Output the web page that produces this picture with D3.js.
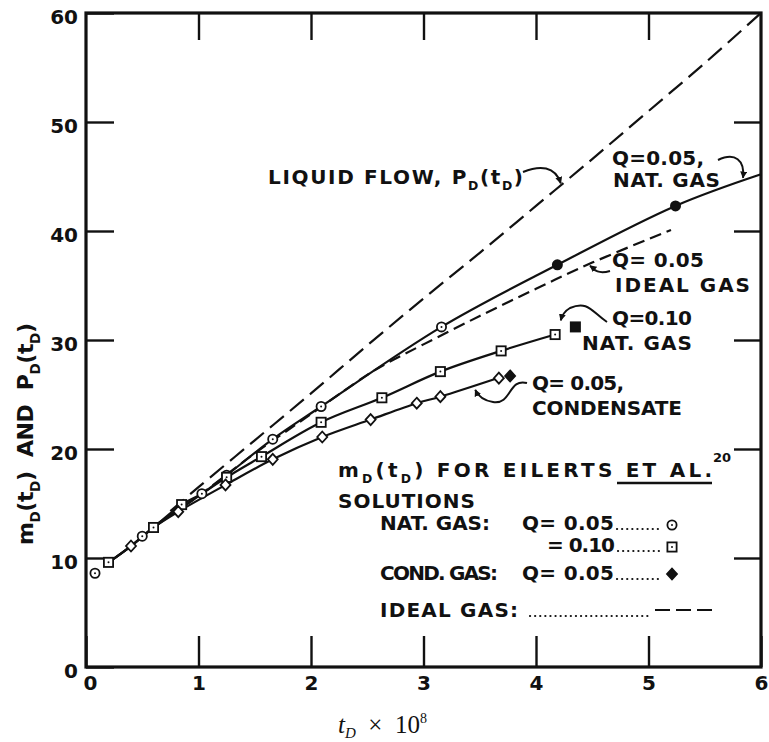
<!DOCTYPE html>
<html>
<head>
<meta charset="utf-8">
<script src="https://cdn.jsdelivr.net/npm/d3@7"></script>
<style>
body { margin: 0; background: #fff; }
text { font-family: "DejaVu Sans", sans-serif; font-weight: bold; fill: #111; white-space: pre; }
</style>
</head>
<body>
<div id="chart"></div>
<script>
var width = 769,
	height = 742;

// axis values
var xTicks = [0, 1, 2, 3, 4, 5, 6];
var yTicks = [0, 10, 20, 30, 40, 50, 60];

// liquid flow P_D(t_D), long dashes
var liquidFlow = [[0.75, 14.3], [1.0, 16.5], [1.5, 20.8], [2.0, 25.1], [2.5, 29.5], [3.0, 33.8],
	[3.5, 38.0], [4.0, 42.3], [4.5, 46.6], [5.0, 51.0], [5.5, 55.4], [6.0, 60.0]];

// ideal gas Q=0.05, short dashes
var idealGas = [[0.6, 12.9], [1.0, 15.7], [1.5, 19.6], [2.0, 23.2], [2.5, 26.8], [2.68, 27.9],
	[3.0, 29.6], [3.5, 32.2], [4.0, 34.7], [4.5, 37.1], [5.2, 40.1]];

// solid curves
var natGas05 = [[0.2, 9.6], [0.4, 11.1], [0.6, 12.8], [0.85, 14.9], [1.03, 15.9], [1.25, 17.6],
	[1.66, 20.9], [2.09, 23.9], [3.16, 31.2], [4.19, 36.9], [5.24, 42.3], [6.0, 45.2]];
var natGas10 = [[0.2, 9.6], [0.4, 11.1], [0.6, 12.8], [0.85, 14.6], [1.25, 17.4], [1.56, 19.3],
	[2.09, 22.45], [2.63, 24.7], [3.15, 27.1], [3.69, 29.0], [4.17, 30.5]];
var condensate = [[0.2, 9.6], [0.4, 11.1], [0.6, 12.8], [0.82, 14.25], [1.24, 16.7], [1.66, 19.05],
	[2.1, 21.1], [2.53, 22.7], [2.94, 24.2], [3.15, 24.8], [3.69, 26.6]];

// Eilerts et al. solution points
var circlePts = [[0.08, 8.6], [0.5, 12.0], [1.03, 15.9], [1.25, 17.6], [1.66, 20.9], [2.09, 23.9], [3.16, 31.2]];
var circleFilled = [[4.19, 36.9], [5.24, 42.3]];
var squarePts = [[0.2, 9.6], [0.6, 12.8], [0.85, 14.9], [1.25, 17.4], [1.56, 19.3], [2.09, 22.45],
	[2.63, 24.7], [3.15, 27.1], [3.69, 29.0], [4.17, 30.5]];
var squareFilled = [[4.35, 31.2]];
var diamondPts = [[0.4, 11.1], [0.82, 14.25], [1.24, 16.7], [1.66, 19.05], [2.1, 21.1], [2.53, 22.7],
	[2.94, 24.2], [3.15, 24.8], [3.67, 26.5]];
var diamondFilled = [[3.77, 26.7]];

var svg = d3.select('#chart')
	.append('svg')
	.attr('width', width)
	.attr('height', height);

svg.append('defs').append('marker')
	.attr('id', 'ah')
	.attr('viewBox', '0 0 10 10')
	.attr('refX', 9).attr('refY', 5)
	.attr('markerWidth', 7).attr('markerHeight', 7)
	.attr('markerUnits', 'userSpaceOnUse')
	.attr('orient', 'auto')
	.append('path').attr('d', 'M0,0L10,5L0,10z').attr('fill', '#111');

var x = d3.scaleLinear().domain([0, 6]).range([86, 761]);
var y = d3.scaleLinear().domain([0, 60]).range([667, 13]);

// axes, ticks pointing inward
var gx = svg.append('g')
	.attr('transform', 'translate(0,' + y(0) + ')')
	.call(d3.axisBottom(x).tickValues(xTicks).tickSize(-31).tickPadding(9).tickFormat(d3.format('d')));
var gy = svg.append('g')
	.attr('transform', 'translate(' + x(0) + ',0)')
	.call(d3.axisLeft(y).tickValues(yTicks).tickSize(-28).tickPadding(8).tickFormat(d3.format('d')));
var gt = svg.append('g')
	.attr('transform', 'translate(0,' + y(60) + ')')
	.call(d3.axisTop(x).tickValues([1, 2, 3, 4, 5]).tickSize(-27).tickFormat(''));
var gr = svg.append('g')
	.attr('transform', 'translate(' + x(6) + ',0)')
	.call(d3.axisRight(y).tickValues([10, 20, 30, 40, 50]).tickSize(-27).tickFormat(''));

[gx, gy, gt, gr].forEach(function(g) {
	g.select('.domain').remove();
	g.selectAll('.tick line').attr('stroke', '#111').attr('stroke-width', 2.4);
	g.selectAll('.tick text').attr('font-size', 20).attr('fill', '#111')
		.attr('font-family', '"DejaVu Sans", sans-serif').attr('font-weight', 'bold');
});
gy.selectAll('.tick text').attr('dy', '0.5em');
gx.selectAll('.tick text').filter(function(d) { return d === 0; }).attr('dx', 4);

svg.append('rect')
	.attr('x', x(0)).attr('y', y(60))
	.attr('width', x(6) - x(0)).attr('height', y(0) - y(60))
	.attr('fill', 'none').attr('stroke', '#111').attr('stroke-width', 3.2);

// curves
var line = d3.line()
	.x(function(d) { return x(d[0]); })
	.y(function(d) { return y(d[1]); })
	.curve(d3.curveCatmullRom.alpha(0.5));

function drawLine(data, dash) {
	svg.append('path')
		.attr('d', line(data))
		.attr('fill', 'none')
		.attr('stroke', '#111')
		.attr('stroke-width', 2.2)
		.attr('stroke-dasharray', dash);
}
drawLine(liquidFlow, '18,8');
drawLine(idealGas, '12,6');
drawLine(natGas05, null);
drawLine(natGas10, null);
drawLine(condensate, null);

// markers
function circleMark(g, px, py, filled) {
	g.append('circle').attr('cx', px).attr('cy', py).attr('r', 4.6)
		.attr('fill', filled ? '#111' : '#fff').attr('stroke', '#111').attr('stroke-width', 1.8);
	if (!filled) g.append('circle').attr('cx', px).attr('cy', py).attr('r', 1).attr('fill', '#111');
}
function squareMark(g, px, py, filled) {
	g.append('rect').attr('x', px - 4.6).attr('y', py - 4.6).attr('width', 9.2).attr('height', 9.2)
		.attr('fill', filled ? '#111' : '#fff').attr('stroke', '#111').attr('stroke-width', 1.8);
	if (!filled) g.append('circle').attr('cx', px).attr('cy', py).attr('r', 1).attr('fill', '#111');
}
function diamondMark(g, px, py, filled) {
	g.append('path').attr('d', 'M' + px + ',' + (py - 5.5) + 'L' + (px + 5) + ',' + py + 'L' + px + ',' + (py + 5.5) + 'L' + (px - 5) + ',' + py + 'Z')
		.attr('fill', filled ? '#111' : '#fff').attr('stroke', '#111').attr('stroke-width', 1.8);
}

var marks = svg.append('g');
circlePts.forEach(function(d) { circleMark(marks, x(d[0]), y(d[1]), false); });
circleFilled.forEach(function(d) { circleMark(marks, x(d[0]), y(d[1]), true); });
squarePts.forEach(function(d) { squareMark(marks, x(d[0]), y(d[1]), false); });
squareFilled.forEach(function(d) { squareMark(marks, x(d[0]), y(d[1]), true); });
diamondPts.forEach(function(d) { diamondMark(marks, x(d[0]), y(d[1]), false); });
diamondFilled.forEach(function(d) { diamondMark(marks, x(d[0]), y(d[1]), true); });

// text with sub/superscripts
function richText(sel, px, py, parts, size, len) {
	var t = sel.append('text').attr('x', px).attr('y', py).attr('font-size', size);
	var shift = 0;
	parts.forEach(function(p) {
		var s = typeof p === 'string' ? { t: p, k: null } : p;
		var target = s.k === 'sub' ? size * 0.3 : s.k === 'sup' ? -size * 0.45 : 0;
		var ts = t.append('tspan').text(s.t).attr('dy', target - shift);
		if (s.k) ts.attr('font-size', size * 0.62);
		shift = target;
	});
	if (len) t.attr('textLength', len).attr('lengthAdjust', 'spacing');
	return t;
}
var D = { t: 'D', k: 'sub' };

var notes = svg.append('g');
richText(notes, 268, 184, ['LIQUID FLOW, P', D, '(t', D, ')'], 20, 255);
richText(notes, 612, 165, ['Q=0.05,'], 20, 92);
richText(notes, 613, 187, ['NAT. GAS'], 20, 107);
richText(notes, 612, 267, ['Q= 0.05'], 20, 92);
richText(notes, 615, 292, ['IDEAL GAS'], 20, 135);
richText(notes, 612, 325, ['Q=0.10'], 20, 80);
richText(notes, 582, 350, ['NAT. GAS'], 20, 110);
richText(notes, 532, 390, ['Q= 0.05,'], 20, 92);
richText(notes, 532, 415, ['CONDENSATE'], 20, 150);

// pointer arrows: start in pixels, tip on the curve in data units
function arrow(d) {
	svg.append('path')
		.attr('d', d)
		.attr('fill', 'none').attr('stroke', '#111').attr('stroke-width', 2)
		.attr('marker-end', 'url(#ah)');
}
var p;
p = d3.path(); p.moveTo(523, 172); p.bezierCurveTo(540, 165, 555, 166, x(4.22), y(44.2) - 2); arrow(p.toString());
p = d3.path(); p.moveTo(718, 160); p.bezierCurveTo(735, 152, 745, 160, x(5.84), y(44.6) - 3); arrow(p.toString());
p = d3.path(); p.moveTo(610, 271); p.bezierCurveTo(596, 275, 593, 268, x(4.48), y(37.0) + 2); arrow(p.toString());
p = d3.path(); p.moveTo(607, 322); p.bezierCurveTo(592, 312, 588, 300, 570, 308); p.quadraticCurveTo(563, 312, x(4.22), y(31.8)); arrow(p.toString());
p = d3.path(); p.moveTo(527, 383); p.bezierCurveTo(508, 378, 512, 405, 493, 402); p.quadraticCurveTo(480, 400, x(3.46), y(25.7) + 3); arrow(p.toString());

// legend
var lg = svg.append('g');
richText(lg, 338, 477, ['m', D, '(t', D, ') FOR EILERTS ET AL.'], 20, 374);
richText(lg, 713, 462, ['20'], 13);
lg.append('line').attr('x1', 617).attr('x2', 712).attr('y1', 483).attr('y2', 483)
	.attr('stroke', '#111').attr('stroke-width', 2.6);
richText(lg, 338, 508, ['SOLUTIONS'], 20, 137);
richText(lg, 380, 530, ['NAT. GAS:'], 20, 110);
richText(lg, 522, 530, ['Q= 0.05'], 20, 92);
richText(lg, 547, 552, ['= 0.10'], 20, 68);
richText(lg, 380, 580, ['COND. GAS:'], 20, 118);
richText(lg, 522, 580, ['Q= 0.05'], 20, 92);
richText(lg, 380, 617, ['IDEAL GAS:'], 20, 138);

function leader(x1, x2, yy) {
	lg.append('line').attr('x1', x1).attr('x2', x2).attr('y1', yy).attr('y2', yy)
		.attr('stroke', '#111').attr('stroke-width', 2.2)
		.attr('stroke-linecap', 'round').attr('stroke-dasharray', '0.1,5');
}
leader(617, 662, 529);
leader(618, 662, 551);
leader(617, 662, 579);
leader(530, 650, 616);
lg.append('line').attr('x1', 655).attr('x2', 712).attr('y1', 610).attr('y2', 610)
	.attr('stroke', '#111').attr('stroke-width', 2.2).attr('stroke-dasharray', '15,6');
circleMark(lg, 672, 525, false);
squareMark(lg, 672, 547, false);
diamondMark(lg, 672, 574, true);

// axis titles
var yt = svg.append('g').attr('transform', 'translate(33,434) rotate(-90)');
richText(yt, 0, 0, ['m', D, '(t', D, ')  AND  P', D, '(t', D, ')'], 22, 222).attr('text-anchor', 'middle');

var xt = svg.append('text')
	.attr('x', 338).attr('y', 733)
	.style('font-family', '"Liberation Serif", "DejaVu Serif", serif')
	.style('font-weight', 'normal')
	.attr('font-size', 25);
xt.append('tspan').text('t').style('font-style', 'italic');
xt.append('tspan').text('D').style('font-style', 'italic').attr('font-size', 15).attr('dy', 5);
xt.append('tspan').text('  \u00d7  10').attr('dy', -5);
xt.append('tspan').text('8').attr('font-size', 14).attr('dy', -10);
</script>
</body>
</html>
